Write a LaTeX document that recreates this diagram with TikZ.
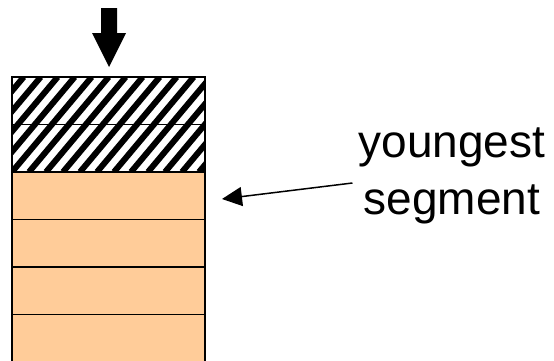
\documentclass[tikz,border=0pt]{standalone}
\usepackage{fontspec}
\setmainfont{Liberation Sans}
\usetikzlibrary{arrows.meta}
\definecolor{segfill}{HTML}{FFCC99}
\begin{document}
\begin{tikzpicture}[x=1pt,y=1pt,
  seg/.style={draw=black, line width=1.3pt, minimum width=193pt, minimum height=47.5pt, inner sep=0pt, outer sep=0pt},
  oldseg/.style={seg, fill=segfill},
  hatchline/.style={line width=6pt, black},
  pointer/.style={line width=1.5pt, -{Triangle[length=20pt,width=19pt]}},
  lbl/.style={font=\fontsize{46}{57}\selectfont, align=center, inner sep=6pt}]
\useasboundingbox (0,0) rectangle (554,360);
% hatched area
\begin{scope}
  \clip (12,188) rectangle (205,283);
  \fill[white] (12,188) rectangle (205,283);
  \foreach \i in {-6,...,12}
    \draw[hatchline] (12+\i*17,188) -- ++(79.7,95);
\end{scope}
% segments
\node[seg, anchor=north west] (h1) at (12,283) {};
\node[seg, anchor=north] (h2) at (h1.south) {};
\node[oldseg, anchor=north] (s1) at (h2.south) {};
\node[oldseg, anchor=north] (s2) at (s1.south) {};
\node[oldseg, anchor=north] (s3) at (s2.south) {};
\node[oldseg, anchor=north] (s4) at (s3.south) {};
% top arrow
\fill[black] (101,352) -- (117,352) -- (117,327) -- (126,327) -- (109,293) -- (92,327) -- (101,327) -- cycle;
% label
\node[lbl] (label) at (452,184) {youngest\\segment};
\coordinate (tip) at (222,161);
\draw[pointer] ([yshift=-7pt]label.west) -- (tip);
\end{tikzpicture}
\end{document}
